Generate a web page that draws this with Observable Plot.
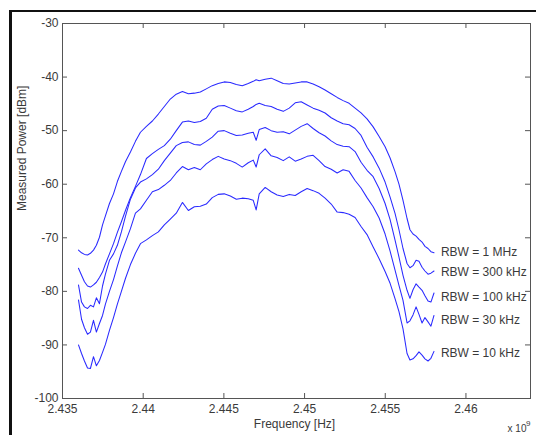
<!DOCTYPE html>
<html>
<head>
<meta charset="utf-8">
<script src="https://cdn.jsdelivr.net/npm/d3@7"></script>
<script src="https://cdn.jsdelivr.net/npm/@observablehq/plot@0.6"></script>
<style>
  html, body { margin: 0; padding: 0; background: #fff; }
  #wrap { position: relative; width: 536px; height: 435px; overflow: hidden; }
  #border { position: absolute; left: 9px; top: 10px; width: 700px; height: 700px;
            border-left: 3px solid #111; border-top: 2px solid #111; pointer-events: none; }
</style>
</head>
<body>
<div id="wrap"><div id="chart"></div><div id="border"></div></div>
<script>
const freqGHz = [
  2.43599, 2.43618, 2.43636, 2.43655, 2.43673, 2.43692, 2.43710, 2.43729, 2.43748, 2.43766,
  2.43791, 2.43816, 2.43840, 2.43865, 2.43890, 2.43921, 2.43952, 2.43983, 2.44020, 2.44057,
  2.44094, 2.44131, 2.44168, 2.44205, 2.44243, 2.44280, 2.44317, 2.44354, 2.44391, 2.44428,
  2.44465, 2.44502, 2.44540, 2.44577, 2.44614, 2.44651, 2.44682, 2.44700, 2.44719, 2.44756,
  2.44793, 2.44830, 2.44868, 2.44905, 2.44942, 2.44979, 2.45016, 2.45053, 2.45090, 2.45127,
  2.45165, 2.45202, 2.45239, 2.45276, 2.45313, 2.45350, 2.45387, 2.45425, 2.45462, 2.45499,
  2.45530, 2.45561, 2.45585, 2.45610, 2.45635, 2.45653, 2.45672, 2.45691, 2.45709, 2.45728,
  2.45746, 2.45765, 2.45783, 2.45802
];
const p1MHz = [
  -72.3, -72.8, -73.1, -73.2, -72.9, -72.3, -71.4, -69.9, -67.6, -65.9,
  -63.6, -61.8, -59.5, -57.6, -55.8, -54.0, -52.0, -50.3, -49.2, -48.2,
  -46.9, -45.5, -44.1, -43.2, -42.7, -43.1, -43.0, -42.8, -42.2, -41.6,
  -41.2, -40.9, -41.0, -41.4, -41.6, -41.2, -40.8, -40.5, -40.7, -40.4,
  -40.2, -40.7, -41.2, -41.3, -41.1, -40.9, -40.9, -41.3, -41.8, -42.4,
  -43.1, -43.8, -44.4, -44.9, -45.8, -46.7, -47.8, -49.3, -51.1, -53.0,
  -55.1, -57.7, -60.0, -63.0, -66.4, -68.5, -69.3, -69.7, -70.3, -70.8,
  -71.6, -72.0, -72.6, -72.8
];
const p300k = [
  -75.7, -77.0, -78.2, -79.0, -79.2, -78.8, -78.3, -77.4, -76.4, -74.9,
  -73.0, -71.1, -69.0, -67.0, -64.9, -62.5, -60.4, -58.2, -55.2, -54.3,
  -53.5, -52.8, -51.6, -50.0, -48.4, -48.2, -48.5, -48.3, -47.7, -46.0,
  -45.4, -45.3, -45.8, -46.3, -46.5, -46.0, -45.5, -45.1, -44.9, -45.3,
  -45.5, -46.0, -46.4, -45.8, -44.8, -44.6, -45.2, -45.8, -46.2, -46.7,
  -47.6, -48.2, -48.7, -48.9, -49.6, -50.9, -53.1, -54.9, -57.0, -59.6,
  -62.4, -65.5, -68.5, -72.0, -74.8, -75.6, -75.2, -74.2, -74.4, -75.5,
  -76.2, -76.8, -76.6, -76.2
];
const p100k = [
  -78.8, -82.0, -82.9, -83.2, -82.6, -82.9, -81.2, -82.3, -79.0, -76.8,
  -74.2, -73.0, -71.4, -68.9, -66.0, -62.8, -60.7, -59.6, -59.0, -58.2,
  -57.2, -55.6, -54.2, -52.8, -52.2, -52.1, -52.6, -52.7, -52.0, -51.2,
  -50.1, -50.0, -50.5, -50.9, -50.8, -50.5, -50.3, -51.8, -49.8, -49.4,
  -50.0, -50.3, -50.2, -50.6, -49.9, -49.2, -48.7, -49.6, -50.4, -51.0,
  -51.9, -52.6, -52.9, -53.0, -53.9, -55.9, -57.4, -58.6, -60.8, -63.6,
  -66.6, -70.5, -73.6, -77.0, -79.8, -81.3, -79.7, -78.6, -79.2, -79.8,
  -80.8, -81.8, -82.0, -80.3
];
const p30k = [
  -81.6, -85.2, -86.8, -88.0, -87.6, -85.4, -87.6, -86.0, -84.5, -82.4,
  -80.0, -77.8, -75.3, -72.8, -70.8, -68.3, -65.4, -64.6, -63.0, -61.4,
  -61.0, -60.2, -59.3, -57.9, -56.7, -57.3, -56.9, -57.3, -56.2, -55.4,
  -54.8, -55.3, -55.6, -56.1, -56.8, -56.0, -55.5, -56.8, -54.5, -53.4,
  -54.7, -55.0, -55.6, -54.9, -55.7, -55.3, -54.8, -54.6, -55.6, -56.7,
  -57.2, -57.9, -57.3, -57.6, -59.3, -60.7, -62.5, -64.2, -66.3, -69.3,
  -72.5, -76.1, -78.9, -81.7, -85.9, -85.5, -84.4, -82.9, -84.3, -85.9,
  -84.9, -85.7, -86.5, -84.5
];
const p10k = [
  -90.0, -91.6, -93.0, -94.3, -94.4, -92.2, -93.9, -92.9, -91.4, -89.9,
  -87.3, -84.9, -82.4, -80.0, -77.6, -75.0, -72.9, -71.1, -70.4, -69.6,
  -68.9, -67.6, -66.5, -65.4, -63.4, -64.9, -64.2, -64.1, -63.7, -62.5,
  -61.9, -61.8, -62.2, -62.8, -62.6, -62.7, -63.0, -64.8, -61.8, -60.6,
  -61.4, -62.0, -62.3, -61.9, -62.1, -61.4, -60.8, -61.2, -61.7, -62.6,
  -63.7, -65.2, -65.3, -65.6, -66.2, -67.9, -69.4, -71.7, -73.9, -76.3,
  -78.5, -81.4, -83.8, -87.0, -91.6, -92.8, -92.6, -92.0, -91.3, -91.9,
  -92.6, -93.0, -92.5, -91.2
];
const rbwLabels = ["RBW = 1 MHz", "RBW = 300 kHz", "RBW = 100 kHz", "RBW = 30 kHz", "RBW = 10 kHz"];
const labelFreq = [2.45845, 2.45845, 2.45845, 2.45845, 2.45845];
const labelPower = [-72.6, -76.5, -81.0, -85.4, -91.6];
const xTicks = [2.435, 2.44, 2.445, 2.45, 2.455, 2.46];
const yTicks = [-100, -90, -80, -70, -60, -50, -40, -30];

const seriesList = [p1MHz, p300k, p100k, p30k, p10k];
const rows = [];
seriesList.forEach((vals, s) => {
  vals.forEach((v, i) => rows.push({series: rbwLabels[s], f: freqGHz[i], p: v}));
});
const labelRows = rbwLabels.map((t, i) => ({t, f: labelFreq[i], p: labelPower[i]}));

const axisColor = "#555";
const textColor = "#3a3a3a";
const chart = Plot.plot({
  width: 536,
  height: 435,
  marginLeft: 62,
  marginRight: 6,
  marginTop: 23,
  marginBottom: 37,
  style: {fontFamily: "Liberation Sans, Arial, sans-serif", fontSize: "12px", color: textColor, background: "white"},
  x: {domain: [2.435, 2.464], label: null},
  y: {domain: [-100, -30], label: null},
  marks: [
    Plot.line(rows, {x: "f", y: "p", z: "series", stroke: "#2a2aff", strokeWidth: 1.05}),
    Plot.frame({stroke: axisColor, strokeWidth: 1}),
    Plot.tickX(xTicks, {x: d => d, insetTop: 370, stroke: axisColor}),
    Plot.tickX(xTicks, {x: d => d, insetBottom: 370, stroke: axisColor}),
    Plot.tickY(yTicks, {y: d => d, insetRight: 463, stroke: axisColor}),
    Plot.tickY(yTicks, {y: d => d, insetLeft: 463, stroke: axisColor}),
    Plot.axisX({ticks: xTicks, tickSize: 0, tickPadding: 6, tickFormat: d => String(d), label: null}),
    Plot.axisY({ticks: yTicks, tickSize: 0, tickPadding: 4, tickFormat: d => String(d), label: null}),
    Plot.text(labelRows, {x: "f", y: "p", text: "t", textAnchor: "start", fill: textColor}),
    Plot.text(["Frequency [Hz]"], {frameAnchor: "bottom", dx: -2, dy: 29, text: d => d, fill: textColor}),
    Plot.text(["Measured Power [dBm]"], {frameAnchor: "left", dx: -40, rotate: -90, text: d => d, fill: textColor}),
    Plot.text(["x 10"], {frameAnchor: "bottom-right", dx: -4, dy: 33, textAnchor: "end", text: d => d, fill: textColor, fontSize: 10}),
    Plot.text(["9"], {frameAnchor: "bottom-right", dx: 0, dy: 27, textAnchor: "end", text: d => d, fill: textColor, fontSize: 8})
  ]
});
document.getElementById("chart").appendChild(chart);
</script>
</body>
</html>
